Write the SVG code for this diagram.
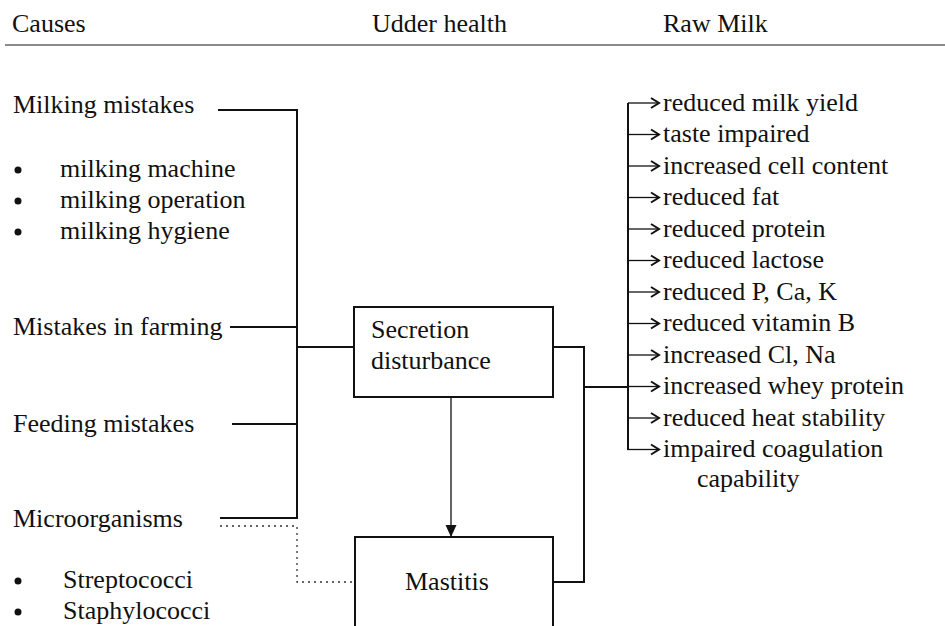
<svg xmlns="http://www.w3.org/2000/svg" width="945" height="626" viewBox="0 0 945 626" font-family="'Liberation Serif', 'Times New Roman', 'DejaVu Serif', serif">
<style>
text{font-family:'Liberation Serif','Times New Roman','DejaVu Serif',serif;font-size:26px;fill:#111}
.ln{fill:none;stroke:#111;stroke-width:2}
.thin{fill:none;stroke:#111;stroke-width:1.3}
.dot{fill:none;stroke:#333;stroke-width:1.3;stroke-dasharray:2 4}
.box{fill:#fff;stroke:#111;stroke-width:2}
.bul{fill:#111}
</style>
<defs>
<marker id="open" markerWidth="12" markerHeight="14" refX="10" refY="7" orient="auto" markerUnits="userSpaceOnUse">
<path d="M2,2 L10,7 L2,12" fill="none" stroke="#111" stroke-width="2"/>
</marker>
<marker id="fill" markerWidth="14" markerHeight="12" refX="12" refY="6" orient="auto" markerUnits="userSpaceOnUse">
<path d="M0,0.5 L12,6 L0,11.5 Z" fill="#111"/>
</marker>
</defs>
<g id="header">
<text x="12" y="32">Causes</text>
<text x="372" y="32">Udder health</text>
<text x="663" y="32">Raw Milk</text>
<line x1="5" y1="45" x2="945" y2="45" stroke="#666" stroke-width="1.5"/>
</g>
<g id="causes">
<text x="13" y="113">Milking mistakes</text>
<circle class="bul" cx="18" cy="170" r="3.5"/><text x="60" y="177">milking machine</text>
<circle class="bul" cx="18" cy="201" r="3.5"/><text x="60" y="208">milking operation</text>
<circle class="bul" cx="18" cy="232" r="3.5"/><text x="60" y="239">milking hygiene</text>
<text x="13" y="335">Mistakes in farming</text>
<text x="13" y="432">Feeding mistakes</text>
<text x="13" y="527">Microorganisms</text>
<circle class="bul" cx="18" cy="581" r="3.5"/><text x="63" y="588">Streptococci</text>
<circle class="bul" cx="18" cy="612" r="3.5"/><text x="63" y="619">Staphylococci</text>
</g>
<g id="secretion">
<rect class="box" x="354" y="307" width="199" height="90"/>
<text x="371" y="338">Secretion</text>
<text x="371" y="369">disturbance</text>
</g>
<g id="mastitis">
<rect class="box" x="355" y="537" width="198" height="100"/>
<text x="405" y="590">Mastitis</text>
</g>
<g id="effects">
<text x="663" y="111">reduced milk yield</text>
<text x="663" y="142">taste impaired</text>
<text x="663" y="174">increased cell content</text>
<text x="663" y="205">reduced fat</text>
<text x="663" y="237">reduced protein</text>
<text x="663" y="268">reduced lactose</text>
<text x="663" y="300">reduced P, Ca, K</text>
<text x="663" y="331">reduced vitamin B</text>
<text x="663" y="363">increased Cl, Na</text>
<text x="663" y="394">increased whey protein</text>
<text x="663" y="426">reduced heat stability</text>
<text x="663" y="457">impaired coagulation</text>
<text x="697" y="487">capability</text>
</g>
<g id="connectors">
<path class="ln" d="M218,110 H297 V518 H220"/>
<path class="ln" d="M230,327 H297"/>
<path class="ln" d="M232,424 H297"/>
<path class="ln" d="M297,347 H354"/>
<path class="dot" d="M220,526 H297 V582 H355"/>
<line class="thin" x1="451" y1="397" x2="451" y2="537" marker-end="url(#fill)"/>
<path class="ln" d="M553,347 H584 V582 H553"/>
<path class="ln" d="M584,387 H628"/>
<path class="ln" d="M628,103 V450"/>
<g class="thin" marker-end="url(#open)">
<line x1="628" y1="103" x2="659" y2="103"/>
<line x1="628" y1="134.5" x2="659" y2="134.5"/>
<line x1="628" y1="166" x2="659" y2="166"/>
<line x1="628" y1="197.5" x2="659" y2="197.5"/>
<line x1="628" y1="229" x2="659" y2="229"/>
<line x1="628" y1="260.5" x2="659" y2="260.5"/>
<line x1="628" y1="292" x2="659" y2="292"/>
<line x1="628" y1="323.5" x2="659" y2="323.5"/>
<line x1="628" y1="355" x2="659" y2="355"/>
<line x1="628" y1="386.5" x2="659" y2="386.5"/>
<line x1="628" y1="418" x2="659" y2="418"/>
<line x1="627" y1="449.5" x2="659" y2="449.5"/>
</g>
</g>
</svg>
